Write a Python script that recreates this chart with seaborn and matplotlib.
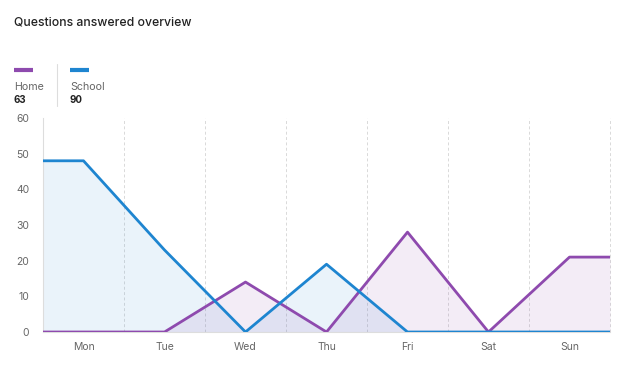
import matplotlib
matplotlib.use("Agg")
import matplotlib.pyplot as plt
import seaborn as sns
import numpy as np
import pandas as pd
from matplotlib.lines import Line2D

days = ["Mon", "Tue", "Wed", "Thu", "Fri", "Sat", "Sun"]
home = [0, 0, 14, 0, 28, 0, 21]
school = [48, 23, 0, 19, 0, 0, 0]
series_names = ["Home", "School"]
yticks = [0, 10, 20, 30, 40, 50, 60]

HOME_C = "#8E4AAE"
SCHOOL_C = "#1E85D0"

sns.set_style("white")
plt.rcParams["font.family"] = ["Inter", "DejaVu Sans"]

fig = plt.figure(figsize=(6.4, 3.75), dpi=100)
ax = fig.add_axes([43/640, 1-332/375, (610-43)/640, (332-118)/375])

n = len(days)
xc = np.arange(n, dtype=float)
x_ext = np.concatenate([[-0.5], xc, [n - 0.5]])

def ext(v):
    return np.concatenate([[v[0]], v, [v[-1]]])

rows = []
for name, vals in [("School", school), ("Home", home)]:
    for x, y in zip(x_ext, ext(vals)):
        rows.append({"x": x, "y": y, "series": name})
df = pd.DataFrame(rows)

ax.fill_between(x_ext, ext(school), 0, color=SCHOOL_C, alpha=0.09, lw=0, zorder=1)
ax.fill_between(x_ext, ext(home), 0, color=HOME_C, alpha=0.10, lw=0, zorder=1)
sns.lineplot(data=df[df.series == "Home"], x="x", y="y", color=HOME_C, lw=2.0,
             ax=ax, legend=False, zorder=3, sort=False)
sns.lineplot(data=df[df.series == "School"], x="x", y="y", color=SCHOOL_C, lw=2.0,
             ax=ax, legend=False, zorder=4, sort=False)

ax.set_xlim(-0.5, n - 0.5)
ax.set_ylim(0, 60)
ax.set_xlabel("")
ax.set_ylabel("")

ax.set_xticks(xc)
ax.set_xticklabels(days)
ax.set_xticks(np.arange(n + 1) - 0.5, minor=True)
ax.tick_params(axis="x", which="major", length=0, pad=7, labelsize=7.5, labelcolor="#666666")
ax.tick_params(axis="x", which="minor", length=11.5, width=0.8, color="#dddddd")
ax.set_yticks(yticks)
ax.tick_params(axis="y", which="major", length=0, pad=10, labelsize=7.5, labelcolor="#666666")
ax.grid(False)
for xb in np.arange(1, n + 1) - 0.5:
    ax.axvline(xb, color="#d9d9d9", lw=0.7, ls=(0, (3, 2.5)), zorder=0, clip_on=False)

for s in ["top", "right"]:
    ax.spines[s].set_visible(False)
ax.spines["left"].set_color("#dddddd")
ax.spines["left"].set_linewidth(0.8)
ax.spines["bottom"].set_color("#dddddd")
ax.spines["bottom"].set_linewidth(0.8)

# Title
fig.text(14/640, 1-22/375, "Questions answered overview", fontsize=8.8, fontweight="medium",
         color="#222222", va="center", ha="left")

# Custom legend
totals = [sum(home), sum(school)]
colors = [HOME_C, SCHOOL_C]
xs = [14, 70]
for name, tot, c, x0 in zip(series_names, totals, colors, xs):
    fig.add_artist(Line2D([x0/640, (x0+19)/640], [1-70/375, 1-70/375], color=c, lw=3,
                          solid_capstyle="butt"))
    fig.text(x0/640, 1-87/375, name, fontsize=7.7, color="#666666", va="center", ha="left")
    fig.text(x0/640, 1-100/375, str(tot), fontsize=7, fontweight="bold", color="#222222",
             va="center", ha="left")
fig.add_artist(Line2D([57/640, 57/640], [1-64/375, 1-106/375], color="#dddddd", lw=0.8))

fig.savefig("out.png", dpi=100)
